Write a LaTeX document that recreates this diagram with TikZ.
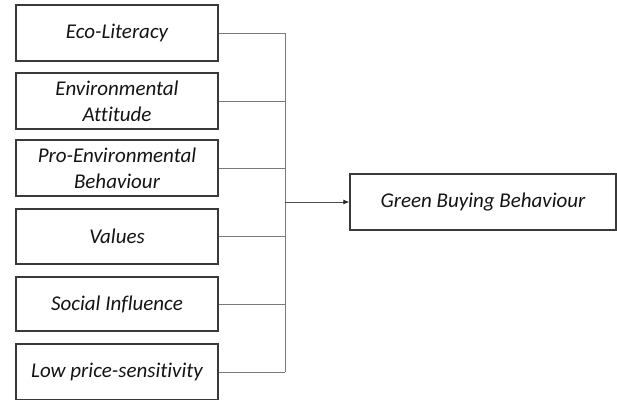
\documentclass[tikz,border=0pt]{standalone}
\usepackage{fontspec}
\setmainfont[Ligatures={NoCommon}]{Carlito}
\usetikzlibrary{arrows.meta}
\definecolor{boxline}{HTML}{3A3A3A}
\definecolor{linkgray}{HTML}{7A7A7A}
\begin{document}
\begin{tikzpicture}[x=1pt,y=-1pt,
  factor/.style={draw=boxline, line width=1.3pt, minimum width=202pt,
    minimum height=56pt, inner sep=0pt, align=center,
    font=\fontsize{21}{26}\selectfont\itshape, text=black!92},
  link/.style={draw=linkgray, line width=0.9pt}]
\useasboundingbox (0,0) rectangle (617,399);

% influencing factors
\node[factor] (f1) at (117,33)    {Eco-Literacy};
\node[factor] (f2) at (117,101)   {Environmental\\Attitude};
\node[factor] (f3) at (117,168)   {Pro-Environmental\\Behaviour};
\node[factor, minimum height=55pt] (f4) at (117,236.5) {Values};
\node[factor, minimum height=54pt] (f5) at (117,304)   {Social Influence};
\node[factor] (f6) at (117,372)   {Low price-sensitivity};

% outcome
\node[factor, minimum width=266pt] (gb) at (483,202) {Green Buying Behaviour};

% collecting bus
\coordinate (bus) at (285,202);
\foreach \f in {f1,f2,f3,f4,f5,f6}
  \draw[link] (\f.east) -- (\f.east -| bus);
\draw[link] (f1.east -| bus) -- (f6.east -| bus);
\draw[link, draw=black!70, -{Latex[length=6pt,width=5pt,color=black!85]}] (bus) -- (gb.west);
\end{tikzpicture}
\end{document}
